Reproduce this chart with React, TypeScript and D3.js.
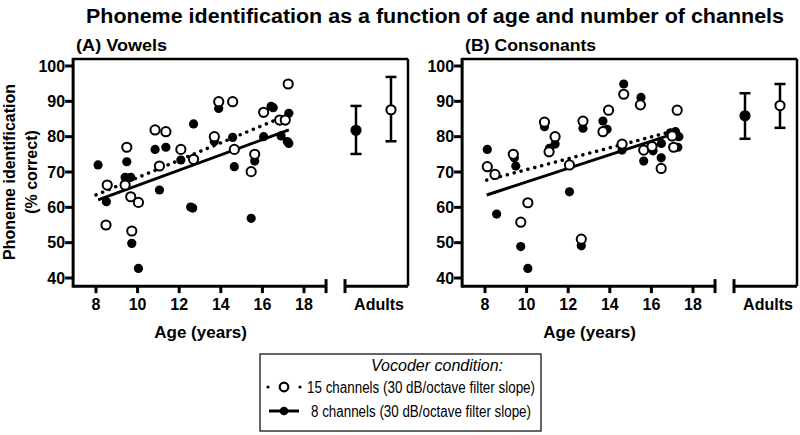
import React from "react";
import * as d3 from "d3";

const titleText = "Phoneme identification as a function of age and number of channels";
const panelTitles = ["(A) Vowels", "(B) Consonants"];
const xTicks = [8, 10, 12, 14, 16, 18];
const yTicks = [40, 50, 60, 70, 80, 90, 100];
const adultGroups = ["8", "15"];

// [age, % correct]
const vowels15: [number, number][] = [
  [8.54, 66.3], [8.48, 55.0], [9.48, 77.0], [9.4, 66.3], [9.67, 63.0], [10.04, 61.4],
  [9.72, 53.3], [10.84, 81.9], [11.36, 81.4], [11.05, 71.7], [12.08, 76.4], [12.69, 73.6],
  [13.69, 80.0], [13.9, 89.9], [14.57, 89.9], [14.65, 76.4], [15.46, 70.1], [15.63, 75.0],
  [16.06, 86.9], [16.83, 84.7], [17.1, 84.7], [17.24, 94.9],
];
const vowels8: [number, number][] = [
  [8.1, 72.0], [8.5, 61.6], [9.48, 72.9], [9.4, 68.5], [9.67, 68.5], [9.72, 49.8],
  [10.04, 42.7], [10.84, 76.4], [11.36, 77.0], [11.05, 64.9], [12.08, 73.4], [12.69, 83.6],
  [12.55, 60.1], [12.65, 59.8], [13.69, 78.6], [13.9, 88.0], [14.57, 79.8], [14.65, 71.5],
  [15.63, 73.1], [15.46, 56.9], [16.06, 80.0], [16.42, 88.6], [16.52, 88.2], [16.9, 80.2],
  [17.2, 78.6], [17.27, 86.6], [17.27, 78.1],
];
const consonants15: [number, number][] = [
  [8.11, 71.5], [8.48, 69.3], [9.36, 75.0], [10.06, 61.3], [9.72, 55.8], [10.86, 84.1],
  [11.37, 80.0], [11.08, 75.7], [12.06, 72.0], [12.71, 84.4], [12.63, 51.0], [13.67, 81.4],
  [13.94, 87.5], [14.67, 92.0], [14.59, 77.9], [15.47, 89.0], [15.63, 76.2], [16.03, 77.2],
  [16.47, 71.0], [17.24, 87.5], [17.0, 80.2], [17.07, 77.0],
];
const consonants8: [number, number][] = [
  [8.11, 76.4], [8.56, 58.1], [9.41, 74.0], [9.48, 71.7], [9.72, 48.9], [10.06, 42.7],
  [10.86, 82.8], [11.37, 77.9], [11.1, 76.7], [12.06, 64.4], [12.71, 82.4], [12.63, 49.1],
  [13.67, 84.4], [13.87, 82.1], [14.67, 94.9], [14.59, 76.2], [15.5, 91.1], [15.63, 73.1],
  [16.08, 76.0], [16.48, 78.1], [16.47, 74.0], [16.92, 81.1], [17.16, 81.4], [17.32, 80.0],
  [17.27, 77.0],
];
// regression lines (end points)
const vowelsFit15: [number, number][] = [[8.0, 63.5], [17.03, 85.7]];
const vowelsFit8: [number, number][] = [[8.1, 62.1], [17.27, 81.9]];
const consonantsFit15: [number, number][] = [[8.08, 67.7], [17.07, 81.6]];
const consonantsFit8: [number, number][] = [[8.08, 63.5], [16.92, 80.5]];
// adults: [mean, low, high] for 8 and 15 channels
const vowelsAdults: [number, number, number][] = [[81.8, 75.1, 88.7], [87.6, 78.7, 96.9]];
const consonantsAdults: [number, number, number][] = [[85.9, 79.4, 92.3], [88.8, 82.5, 94.9]];

const legendTitle = "Vocoder condition:";
const legendLabels = [
  "15 channels (30 dB/octave filter slope)",
  "8 channels (30 dB/octave filter slope)",
];

const FONT = "'Liberation Sans', Arial, sans-serif";

function Panel(props: {
  dx: number;
  title: string;
  open: [number, number][];
  filled: [number, number][];
  fitOpen: [number, number][];
  fitFilled: [number, number][];
  adults: [number, number, number][];
  titleLen: number;
}) {
  const { dx, title, open, filled, fitOpen, fitFilled, adults, titleLen } = props;
  const x = d3.scaleLinear().domain([8, 18]).range([96 + dx, 304 + dx]);
  const y = d3.scaleLinear().domain([40, 100]).range([278, 66]);
  const xa = d3.scalePoint<string>().domain(adultGroups).range([356 + dx, 391 + dx]);
  const x0 = x(6.9);
  const x1 = x(19.06);
  const yB = y(37.7);
  const yT = y(102);
  const ax0 = 345 + dx;
  const ax1 = 408 + dx;
  const line = d3
    .line<[number, number]>()
    .x((d) => x(d[0]))
    .y((d) => y(d[1]));
  const sw = 3;
  return (
    <g>
      <text x={x0 + 3} y={51} fontFamily={FONT} fontWeight="bold" fontSize={17} textLength={titleLen} lengthAdjust="spacingAndGlyphs">
        {title}
      </text>
      {/* frame */}
      <line x1={x0} x2={ax1} y1={yT} y2={yT} stroke="#000" strokeWidth={2.5} />
      <line x1={ax1} x2={ax1} y1={yT} y2={yB} stroke="#000" strokeWidth={2.5} />
      {/* y axis */}
      <line x1={x0} x2={x0} y1={yT - 1} y2={yB + 1.5} stroke="#000" strokeWidth={sw} />
      {yTicks.map((t) => (
        <g key={t}>
          <line x1={x0 - 8} x2={x0} y1={y(t)} y2={y(t)} stroke="#000" strokeWidth={sw} />
          <text x={x0 - 8} y={y(t) + 5.5} textAnchor="end" fontFamily={FONT} fontWeight="bold" fontSize={16}>
            {t}
          </text>
        </g>
      ))}
      {/* x axis */}
      <line x1={x0} x2={x1} y1={yB} y2={yB} stroke="#000" strokeWidth={sw} />
      <line x1={x1} x2={x1} y1={yB - 7} y2={yB + 7} stroke="#000" strokeWidth={sw} />
      {xTicks.map((t) => (
        <g key={t}>
          <line x1={x(t)} x2={x(t)} y1={yB} y2={yB + 7} stroke="#000" strokeWidth={sw} />
          <text x={x(t)} y={310} textAnchor="middle" fontFamily={FONT} fontWeight="bold" fontSize={16}>
            {t}
          </text>
        </g>
      ))}
      {/* adults axis segment */}
      <line x1={ax0} x2={ax1} y1={yB} y2={yB} stroke="#000" strokeWidth={sw} />
      <line x1={ax0} x2={ax0} y1={yB - 7} y2={yB + 7} stroke="#000" strokeWidth={sw} />
      <text x={379 + dx} y={310} textAnchor="middle" fontFamily={FONT} fontWeight="bold" fontSize={16}>
        Adults
      </text>
      <text x={(x0 + x1) / 2 + 1} y={338} textAnchor="middle" fontFamily={FONT} fontWeight="bold" fontSize={17}>
        Age (years)
      </text>
      {/* regression lines */}
      <path d={line(fitFilled) || ""} stroke="#000" strokeWidth={3} fill="none" />
      <path d={line(fitOpen) || ""} stroke="#000" strokeWidth={3.5} fill="none" strokeDasharray="0.1 7" strokeLinecap="round" />
      {/* points */}
      {filled.map((d, i) => (
        <circle key={"f" + i} cx={x(d[0])} cy={y(d[1])} r={4.6} fill="#000" />
      ))}
      {open.map((d, i) => (
        <circle key={"o" + i} cx={x(d[0])} cy={y(d[1])} r={4.6} fill="#fff" stroke="#000" strokeWidth={2} />
      ))}
      {/* adults */}
      {adults.map((a, i) => {
        const cx = xa(adultGroups[i]) as number;
        return (
          <g key={"a" + i}>
            <line x1={cx} x2={cx} y1={y(a[1])} y2={y(a[2])} stroke="#000" strokeWidth={2.5} />
            <line x1={cx - 5.5} x2={cx + 5.5} y1={y(a[1])} y2={y(a[1])} stroke="#000" strokeWidth={2.5} />
            <line x1={cx - 5.5} x2={cx + 5.5} y1={y(a[2])} y2={y(a[2])} stroke="#000" strokeWidth={2.5} />
            <circle cx={cx} cy={y(a[0])} r={4.6} fill={i === 0 ? "#000" : "#fff"} stroke="#000" strokeWidth={2} />
          </g>
        );
      })}
    </g>
  );
}

export default function App() {
  return (
    <svg
      width={800}
      height={435}
      viewBox="0 0 800 435"
      style={{ position: "absolute", left: 0, top: 0, background: "#fff" }}
    >
      <rect width={800} height={435} fill="#fff" />
      <text x={435} y={23} textAnchor="middle" fontFamily={FONT} fontWeight="bold" fontSize={20} textLength={698} lengthAdjust="spacingAndGlyphs">
        {titleText}
      </text>
      <text transform="translate(15,172) rotate(-90)" textAnchor="middle" fontFamily={FONT} fontWeight="bold" fontSize={16}>
        Phoneme identification
      </text>
      <text transform="translate(37,172) rotate(-90)" textAnchor="middle" fontFamily={FONT} fontWeight="bold" fontSize={16}>
        (% correct)
      </text>
      <Panel dx={0} title={panelTitles[0]} open={vowels15} filled={vowels8} fitOpen={vowelsFit15} fitFilled={vowelsFit8} adults={vowelsAdults} titleLen={91} />
      <Panel dx={389} title={panelTitles[1]} open={consonants15} filled={consonants8} fitOpen={consonantsFit15} fitFilled={consonantsFit8} adults={consonantsAdults} titleLen={131} />
      {/* legend */}
      <rect x={260} y={354} width={281} height={77} fill="#fff" stroke="#000" strokeWidth={1.2} />
      <text x={437} y={371} textAnchor="middle" fontFamily={FONT} fontStyle="italic" fontSize={16}>
        {legendTitle}
      </text>
      <g>
        {[268, 284, 300].map((cx, i) =>
          i === 1 ? (
            <circle key={i} cx={cx} cy={387} r={4.3} fill="#fff" stroke="#000" strokeWidth={2.2} />
          ) : (
            <circle key={i} cx={cx} cy={387} r={1.6} fill="#000" />
          )
        )}
        <text x={307} y={392.5} fontFamily={FONT} fontSize={16} textLength={228} lengthAdjust="spacingAndGlyphs">
          {legendLabels[0]}
        </text>
        <line x1={269} x2={299} y1={411} y2={411} stroke="#000" strokeWidth={3} />
        <circle cx={284} cy={411} r={4.3} fill="#000" />
        <text x={311} y={416.5} fontFamily={FONT} fontSize={16} textLength={220} lengthAdjust="spacingAndGlyphs">
          {legendLabels[1]}
        </text>
      </g>
    </svg>
  );
}
